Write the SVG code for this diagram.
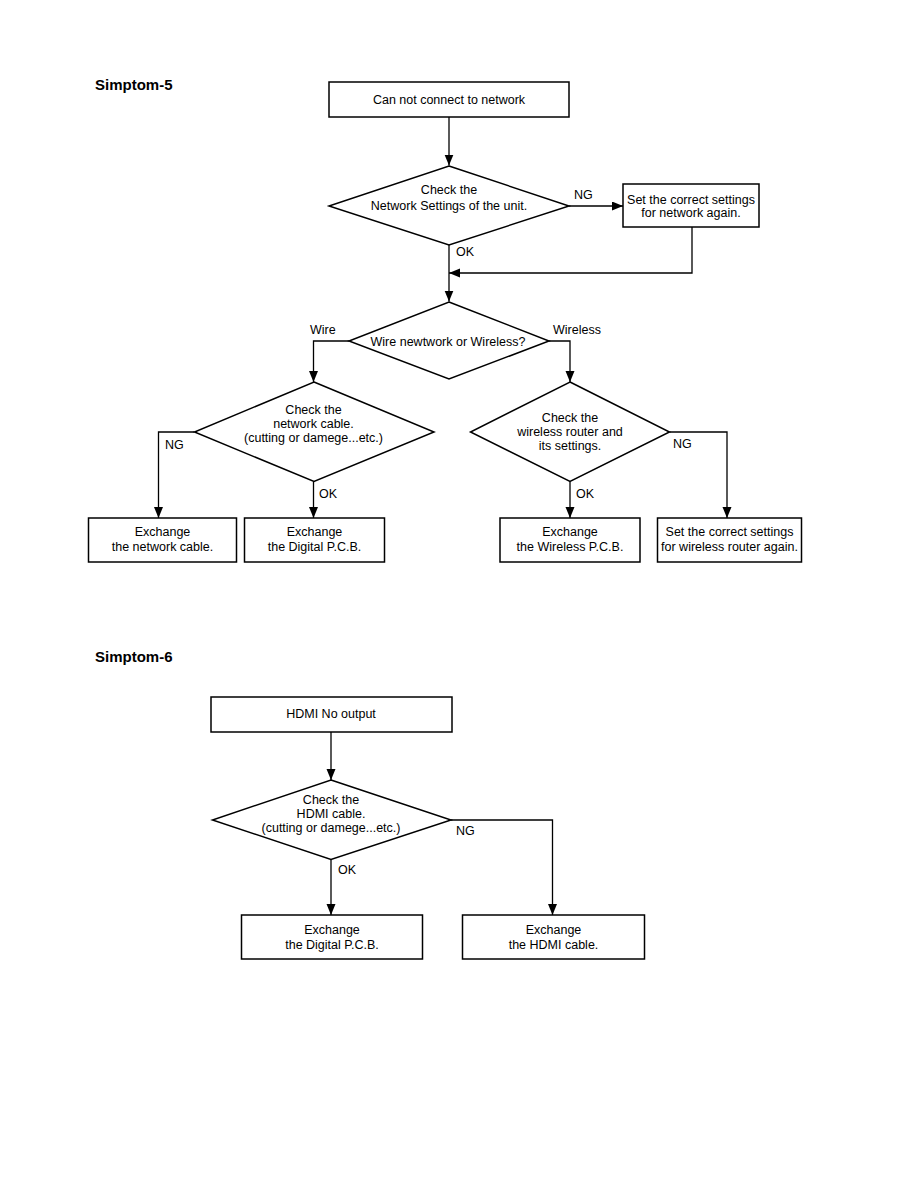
<svg xmlns="http://www.w3.org/2000/svg" width="918" height="1188" viewBox="0 0 918 1188">
<style>
.n{fill:#fff;stroke:#000;stroke-width:1.5}
.t{font-family:"Liberation Sans",Arial,sans-serif;font-size:12.5px;fill:#000;text-anchor:middle}
.l{font-family:"Liberation Sans",Arial,sans-serif;font-size:12.5px;fill:#000}
.h{font-family:"Liberation Sans",Arial,sans-serif;font-size:15px;font-weight:bold;fill:#000}
.c{fill:none;stroke:#000;stroke-width:1.3}
</style>
<defs>
<marker id="ah" markerUnits="userSpaceOnUse" markerWidth="11" markerHeight="10" refX="11" refY="4.5" orient="auto">
<path d="M0,0 L11,4.5 L0,9 z" fill="#000"/>
</marker>
</defs>
<rect width="918" height="1188" fill="#fff"/>
<text class="h" x="95" y="90">Simptom-5</text>
<text class="h" x="95" y="662">Simptom-6</text>

<g id="connectors">
<line class="c" x1="449" y1="117" x2="449" y2="165.5" marker-end="url(#ah)"/>
<line class="c" x1="569" y1="206" x2="623" y2="206" marker-end="url(#ah)"/>
<polyline class="c" points="692,227 692,273 449,273" marker-end="url(#ah)"/>
<line class="c" x1="449" y1="245" x2="449" y2="301.5" marker-end="url(#ah)"/>
<polyline class="c" points="349,341 313.5,341 313.5,382" marker-end="url(#ah)"/>
<polyline class="c" points="549,341 570,341 570,382" marker-end="url(#ah)"/>
<polyline class="c" points="194.5,432 158.5,432 158.5,518" marker-end="url(#ah)"/>
<line class="c" x1="313.5" y1="481.5" x2="313.5" y2="518" marker-end="url(#ah)"/>
<line class="c" x1="570" y1="481.5" x2="570" y2="518" marker-end="url(#ah)"/>
<polyline class="c" points="669.5,432 727,432 727,518" marker-end="url(#ah)"/>
<line class="c" x1="331" y1="732" x2="331" y2="780" marker-end="url(#ah)"/>
<polyline class="c" points="451,820 552.5,820 552.5,915" marker-end="url(#ah)"/>
<line class="c" x1="331" y1="859.5" x2="331" y2="915" marker-end="url(#ah)"/>
<text class="l" x="574" y="198.5">NG</text>
<text class="l" x="456" y="256">OK</text>
<text class="l" x="310" y="333.5">Wire</text>
<text class="l" x="553" y="333.5">Wireless</text>
<text class="l" x="165" y="448.5">NG</text>
<text class="l" x="319" y="497.5">OK</text>
<text class="l" x="576" y="497.5">OK</text>
<text class="l" x="673" y="447.5">NG</text>
<text class="l" x="456" y="835">NG</text>
<text class="l" x="338" y="873.5">OK</text>
</g>

<g id="n1"><rect class="n" x="329" y="82" width="240" height="35"/><text class="t" x="449" y="103.5">Can not connect to network</text></g>
<g id="n2"><polygon class="n" points="449,166 569,206 449,245 329,206"/><text class="t" x="449" y="194">Check the</text><text class="t" x="449" y="209.5">Network Settings of the unit.</text></g>
<g id="n3"><rect class="n" x="623" y="184" width="136" height="43"/><text class="t" x="691" y="203.5">Set the correct settings</text><text class="t" x="691" y="217">for network again.</text></g>
<g id="n4"><polygon class="n" points="449,302 549,341 449,379 349,341"/><text class="t" x="448" y="345.5">Wire newtwork or Wireless?</text></g>
<g id="n5"><polygon class="n" points="314,382 434,432 314,481.5 194.5,432"/><text class="t" x="313.5" y="413.5">Check the</text><text class="t" x="313.5" y="427.5">network cable.</text><text class="t" x="313.5" y="441.5">(cutting or damege...etc.)</text></g>
<g id="n6"><polygon class="n" points="570,382 669.5,432 570,481.5 470.5,432"/><text class="t" x="570" y="421.5">Check the</text><text class="t" x="570" y="436">wireless router and</text><text class="t" x="570" y="450">its settings.</text></g>
<g id="n7"><rect class="n" x="88.5" y="518" width="148" height="44"/><text class="t" x="162.5" y="536">Exchange</text><text class="t" x="162.5" y="551">the network cable.</text></g>
<g id="n8"><rect class="n" x="244.5" y="518" width="140" height="44"/><text class="t" x="314.5" y="536">Exchange</text><text class="t" x="314.5" y="551">the Digital P.C.B.</text></g>
<g id="n9"><rect class="n" x="500" y="518" width="140" height="44"/><text class="t" x="570" y="536">Exchange</text><text class="t" x="570" y="551">the Wireless P.C.B.</text></g>
<g id="n10"><rect class="n" x="657.5" y="518" width="144" height="44"/><text class="t" x="729.5" y="536">Set the correct settings</text><text class="t" x="729.5" y="551">for wireless router again.</text></g>

<g id="m1"><rect class="n" x="211" y="697" width="241" height="35"/><text class="t" x="331" y="717.5">HDMI No output</text></g>
<g id="m2"><polygon class="n" points="331,780 451,820 331,859.5 212.5,820"/><text class="t" x="331" y="804">Check the</text><text class="t" x="331" y="818">HDMI cable.</text><text class="t" x="331" y="832">(cutting or damege...etc.)</text></g>
<g id="m3"><rect class="n" x="241.5" y="915" width="181" height="44"/><text class="t" x="332" y="934">Exchange</text><text class="t" x="332" y="948.5">the Digital P.C.B.</text></g>
<g id="m4"><rect class="n" x="462.5" y="915" width="182" height="44"/><text class="t" x="553.5" y="934">Exchange</text><text class="t" x="553.5" y="948.5">the HDMI cable.</text></g>
</svg>
